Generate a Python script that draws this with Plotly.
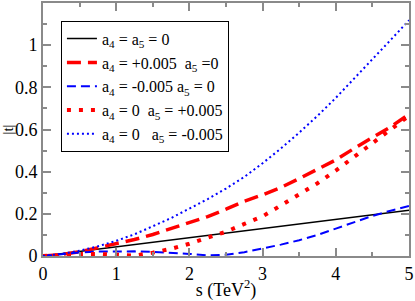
import plotly.graph_objects as go

s_vals = [0, 0.25, 0.5, 0.75, 1, 1.25, 1.5, 1.75, 2, 2.25, 2.5, 2.75, 3, 3.25, 3.5, 3.75, 4, 4.25, 4.5, 4.75, 5]

t_sm = [0, 0.011, 0.021, 0.032, 0.043, 0.054, 0.064, 0.075, 0.086, 0.097, 0.107, 0.118, 0.129, 0.14, 0.151, 0.162, 0.173, 0.184, 0.195, 0.206, 0.217]
t_a4_pos = [0, 0.007, 0.02, 0.038, 0.057, 0.078, 0.102, 0.13, 0.155, 0.187, 0.222, 0.26, 0.29, 0.325, 0.367, 0.41, 0.456, 0.51, 0.56, 0.613, 0.672]
t_a4_neg = [0, 0.01, 0.017, 0.021, 0.022, 0.022, 0.02, 0.016, 0.01, 0.003, 0.006, 0.018, 0.035, 0.054, 0.075, 0.1, 0.13, 0.16, 0.19, 0.215, 0.237]
t_a5_pos = [0, 0.005, 0.009, 0.01, 0.006, 0.002, 0.016, 0.034, 0.058, 0.085, 0.115, 0.152, 0.188, 0.24, 0.29, 0.345, 0.405, 0.47, 0.53, 0.6, 0.665]
t_a5_neg = [0, 0.01, 0.025, 0.046, 0.072, 0.103, 0.141, 0.18, 0.225, 0.27, 0.32, 0.375, 0.44, 0.51, 0.585, 0.665, 0.75, 0.84, 0.93, 1.025, 1.118]

names = [
    "a<sub>4</sub> = a<sub>5</sub> = 0",
    "a<sub>4</sub> = +0.005\u00a0\u00a0a<sub>5</sub> =0",
    "a<sub>4</sub> = -0.005 a<sub>5</sub> = 0",
    "a<sub>4</sub> = 0\u00a0\u00a0a<sub>5</sub> = +0.005",
    "a<sub>4</sub> = 0\u00a0\u00a0\u00a0a<sub>5</sub> = -0.005",
]
series = [t_sm, t_a4_pos, t_a4_neg, t_a5_pos, t_a5_neg]
styles = [
    dict(color="black", width=1.5, dash="solid"),
    dict(color="#ff0000", width=3.5, dash="14px,7px"),
    dict(color="#0000ff", width=2, dash="9px,5px"),
    dict(color="#ff0000", width=4, dash="4px,8px"),
    dict(color="#0000ff", width=2, dash="2px,3px"),
]

fig = go.Figure()
for i, (nm, ys, st) in enumerate(zip(names, series, styles)):
    fig.add_trace(go.Scatter(x=s_vals, y=ys, mode="lines", name=nm, line=st, legendgroup=f"g{i}"))

axcol = "#8a8a8a"
font_family = "Liberation Serif"
fig.update_layout(
    width=415, height=301,
    margin=dict(l=43, r=6, t=1, b=44),
    paper_bgcolor="white", plot_bgcolor="white",
    font=dict(family=font_family, size=16, color="black"),
    showlegend=True,
    legend=dict(x=0.049, y=0.93, xanchor="left", yanchor="top",
                bordercolor="black", borderwidth=1, bgcolor="white",
                font=dict(family=font_family, size=16),
                tracegroupgap=0, itemwidth=30),
    xaxis=dict(range=[0, 5], tickvals=[0, 1, 2, 3, 4, 5], ticktext=["0", "1", "2", "3", "4", "5"],
               ticks="inside", ticklen=8, tickwidth=1.5, tickcolor=axcol,
               minor=dict(tickmode="linear", tick0=0, dtick=0.5, ticks="inside", ticklen=4, tickcolor=axcol, tickwidth=1.5),
               showline=True, linecolor=axcol, linewidth=2, mirror="allticks",
               showgrid=False, zeroline=False,
               tickfont=dict(family=font_family, size=18),
               title=dict(text="s (TeV<sup>2</sup>)", font=dict(family=font_family, size=18), standoff=4)),
    yaxis=dict(range=[0, 1.2], tickvals=[0, 0.2, 0.4, 0.6, 0.8, 1.0], ticktext=["0", "0.2", "0.4", "0.6", "0.8", "1"],
               ticks="inside", ticklen=8, tickwidth=1.5, tickcolor=axcol,
               minor=dict(tickmode="linear", tick0=0, dtick=0.1, ticks="inside", ticklen=4, tickcolor=axcol, tickwidth=1.5),
               showline=True, linecolor=axcol, linewidth=2, mirror="allticks",
               showgrid=False, zeroline=False,
               tickfont=dict(family=font_family, size=18),
               title=dict(text="|t|", font=dict(family=font_family, size=15), standoff=0)),
)

fig.write_html("out.html", config={"displayModeBar": False},
               post_script="document.body.style.margin='0';document.body.style.padding='0';")
